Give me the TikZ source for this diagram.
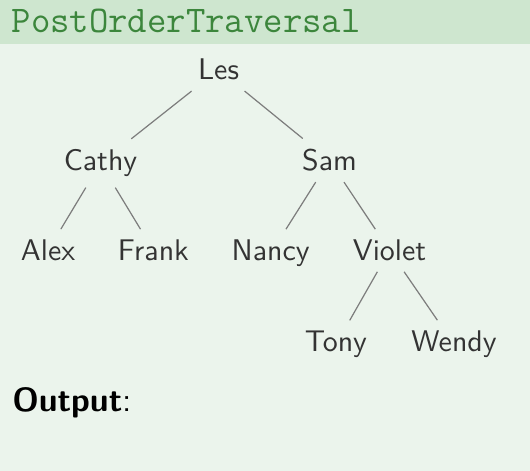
\documentclass[tikz,border=0pt]{standalone}
\usepackage{fontspec}
\usepackage{tikz}
\newcommand{\levelone}{80}
\newcommand{\leveltwo}{170.7}
\newcommand{\levelthree}{260.7}
\newcommand{\levelfour}{351.7}
\definecolor{slideBg}{RGB}{235,244,236}
\definecolor{titleBg}{RGB}{206,230,207}
\definecolor{titleFg}{RGB}{60,134,60}
\definecolor{edgeGray}{RGB}{125,125,125}
\usetikzlibrary{positioning}
\tikzset{
  person/.style={anchor=base,font=\fontsize{9.8}{11}\sffamily,text=black!80,inner sep=.3333em},
  edge/.style={draw=edgeGray,line width=0.4pt},
  heading/.style={anchor=base west,inner sep=0,font=\fontsize{12.35}{14}\ttfamily,text=titleFg},
}

\begin{document}
\begin{tikzpicture}[x=0.3279pt,y=-0.3279pt]
  \useasboundingbox (0,0) rectangle (530,471);
  \fill [slideBg] (0,0) rectangle (530,471);
  \fill [titleBg] (0,0) rectangle (530,44);
  \node (title) [heading] at (11,32.7) {PostOrderTraversal};
  % tree
  \node (les) [person] at (218.5,\levelone) {Les};
  \node (cathy) [person] at (100.5,\leveltwo) {Cathy};
  \node (sam) [person] at (329.5,\leveltwo) {Sam};
  \node (alex) [person] at (48,\levelthree) {Alex};
  \node (frank) [person] at (153.4,\levelthree) {Frank};
  \node (nancy) [person] at (270.7,\levelthree) {Nancy};
  \node (violet) [person] at (389.5,\levelthree) {Violet};
  \node (tony) [person] at (336,\levelfour) {Tony};
  \node (wendy) [person] at (454,\levelfour) {Wendy};
  \path [edge] (les) -- (cathy);
  \path [edge] (les) -- (sam);
  \path [edge] (cathy) -- (alex);
  \path [edge] (cathy) -- (frank);
  \path [edge] (sam) -- (nancy);
  \path [edge] (sam) -- (violet);
  \path [edge] (violet) -- (tony);
  \path [edge] (violet) -- (wendy);
  \node (output) [anchor=base west,inner sep=0,font=\fontsize{10.98}{13}\sffamily] at (11.7,411.7) {\textbf{Output}:};
\end{tikzpicture}
\end{document}
